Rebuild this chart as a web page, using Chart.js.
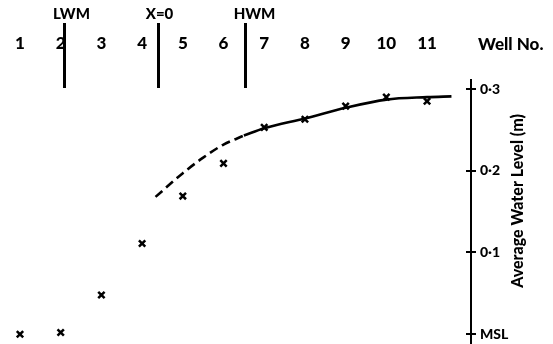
<!DOCTYPE html>
<html>
<head>
<meta charset="utf-8">
<script src="https://cdn.jsdelivr.net/npm/chart.js@4.4.1/dist/chart.umd.min.js"></script>
<style>
  html, body { margin: 0; padding: 0; background: #fff; }
  #wrap { width: 553px; height: 344px; }
</style>
</head>
<body>
<div id="wrap"><canvas id="wellChart"></canvas></div>
<script>
const wells = [1, 2, 3, 4, 5, 6, 7, 8, 9, 10, 11];
const waterLevel = [0.000, 0.002, 0.048, 0.111, 0.169, 0.209, 0.253, 0.263, 0.279, 0.290, 0.285];

// fitted curve: dashed seaward part, solid landward part
const dashedCurveX = [4.33, 5.0, 5.5, 6.0, 6.5];
const dashedCurveY = [0.168, 0.197, 0.216, 0.232, 0.243];
const solidCurveX = [6.5, 7, 8, 9, 10, 11, 11.6];
const solidCurveY = [0.243, 0.252, 0.264, 0.277, 0.287, 0.290, 0.291];

const levelTicks = [0, 0.1, 0.2, 0.3];
const levelTickLabels = ['MSL', '0·1', '0·2', '0·3'];

const markerWells = [2.08, 4.39, 6.53];
const markerLabels = ['LWM', 'X=0', 'HWM'];

const FONT = 'Lato';
const toXY = (xs, ys) => xs.map((x, i) => ({ x: x, y: ys[i] }));

const overlay = {
    id: 'overlay',
    afterDraw(chart) {
        const ctx = chart.ctx;
        const xs = chart.scales.x;
        const ys = chart.scales.y;
        ctx.save();
        ctx.strokeStyle = '#000';
        ctx.fillStyle = '#000';

        // LWM / X=0 / HWM markers
        const labelShift = [7, 1, 9];
        ctx.lineWidth = 3;
        ctx.font = '900 15px ' + FONT;
        ctx.textAlign = 'center';
        ctx.textBaseline = 'middle';
        markerWells.forEach((w, i) => {
            const px = Math.round(xs.getPixelForValue(w)) + 0.5;
            ctx.beginPath();
            ctx.moveTo(px, 23);
            ctx.lineTo(px, 88);
            ctx.stroke();
            ctx.fillText(markerLabels[i], px + labelShift[i], 14);
        });

        // axis caption for the wells
        ctx.font = '900 17px ' + FONT;
        ctx.textAlign = 'left';
        ctx.fillText('Well No.', 478, 45);

        // tick crosses on the level axis
        ctx.lineWidth = 2;
        levelTicks.forEach(v => {
            const py = Math.round(ys.getPixelForValue(v));
            ctx.beginPath();
            ctx.moveTo(ys.left - 5, py);
            ctx.lineTo(ys.left + 5, py);
            ctx.stroke();
        });

        // level axis title, reading bottom to top
        ctx.translate(518, 201);
        ctx.rotate(-Math.PI / 2);
        ctx.font = '900 16px ' + FONT;
        ctx.textAlign = 'center';
        ctx.fillText('Average Water Level (m)', 0, 0);
        ctx.restore();
    }
};

new Chart(document.getElementById('wellChart'), {
    type: 'scatter',
    data: {
        datasets: [
            {
                label: 'Observed',
                data: toXY(wells, waterLevel),
                pointStyle: 'crossRot',
                pointRadius: 4.5,
                pointBorderWidth: 2.5,
                borderColor: '#000',
                backgroundColor: '#000',
                showLine: false,
                clip: false
            },
            {
                label: 'Curve (dashed)',
                data: toXY(dashedCurveX, dashedCurveY),
                showLine: true,
                borderColor: '#000',
                borderWidth: 2.6,
                borderDash: [9, 5],
                pointRadius: 0,
                cubicInterpolationMode: 'monotone',
                clip: false
            },
            {
                label: 'Curve',
                data: toXY(solidCurveX, solidCurveY),
                showLine: true,
                borderColor: '#000',
                borderWidth: 2.6,
                pointRadius: 0,
                cubicInterpolationMode: 'monotone',
                clip: false
            }
        ]
    },
    options: {
        responsive: true,
        maintainAspectRatio: false,
        animation: false,
        layout: { padding: 0, autoPadding: false },
        plugins: {
            legend: { display: false },
            tooltip: { enabled: false }
        },
        scales: {
            x: {
                type: 'linear',
                position: 'top',
                min: 0.509,
                max: 12.08,
                afterFit: s => { s.height = 80; s.paddingLeft = 0; s.paddingRight = 0; },
                afterBuildTicks: s => { s.ticks = wells.map(v => ({ value: v })); },
                grid: { display: false, drawTicks: false },
                border: { display: false },
                ticks: {
                    color: '#000',
                    padding: 26,
                    font: { family: FONT, size: 17, weight: '900' },
                    callback: v => String(v)
                }
            },
            y: {
                type: 'linear',
                position: 'right',
                min: -0.012,
                max: 0.311,
                afterFit: s => { s.width = 82; s.paddingTop = 0; s.paddingBottom = 0; },
                afterBuildTicks: s => { s.ticks = levelTicks.map(v => ({ value: v })); },
                grid: { drawOnChartArea: false, drawTicks: false },
                border: { display: true, color: '#000', width: 2 },
                ticks: {
                    color: '#000',
                    padding: 9,
                    font: { family: FONT, size: 14, weight: '900' },
                    callback: v => levelTickLabels[levelTicks.indexOf(Math.round(v * 10) / 10)]
                }
            }
        }
    },
    plugins: [overlay]
});
</script>
</body>
</html>
